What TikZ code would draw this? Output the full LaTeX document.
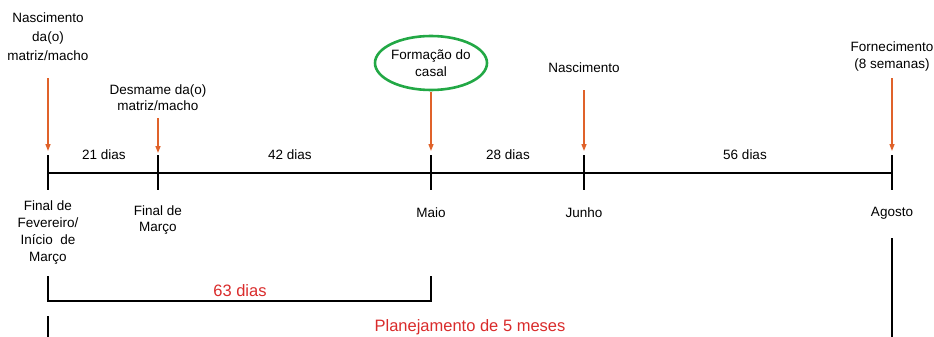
\documentclass[tikz,border=0pt]{standalone}
\usepackage{fontspec}
\setmainfont{Liberation Sans}
\usetikzlibrary{arrows.meta,shapes.geometric}
\definecolor{setacor}{HTML}{E0622A}
\definecolor{vermelho}{HTML}{D92B2B}
\definecolor{verde}{HTML}{22A845}
\begin{document}
\begin{tikzpicture}[x=1pt,y=-1pt,
    rotulo/.style={align=center,inner sep=0pt,font=\fontsize{13.5}{17}\selectfont},
    destaque/.style={inner sep=0pt,text=vermelho,font=\fontsize{16.5}{19}\selectfont},
    seta/.style={draw=setacor,line width=1.3pt,-{Triangle[length=7pt,width=5pt]}},
    eixo/.style={line width=2.8pt},
    chave/.style={line width=1.4pt}
  ]
  \useasboundingbox (0,0) rectangle (934,337);
  % marcos da linha do tempo
  \draw
    (48,173) coordinate (t0)
    (158,173) coordinate (t1)
    (431,173) coordinate (t2)
    (584,173) coordinate (t3)
    (892,173) coordinate (t4);
  % eventos (acima)
  \draw
    (48,37) node[rotulo,font=\fontsize{13.5}{19}\selectfont] (nasc0){Nascimento\\da(o)\\matriz/macho}
    (158,97.5) node[rotulo,font=\fontsize{13.5}{15.5}\selectfont] (desm){Desmame da(o)\\matriz/macho}
    (431,63) node[rotulo,font=\fontsize{13.5}{17}\selectfont] (form){Formação do\\casal}
    (584,68) node[rotulo] (nasc1){Nascimento}
    (892,56.5) node[rotulo] (forn){Fornecimento\\(8 semanas)};
  \node[ellipse,draw=verde,line width=2.6pt,minimum width=112pt,minimum height=54pt] (oval) at (form) {};
  % intervalos
  \draw
    (104,155) node[rotulo] (d21){21 dias}
    (290,155) node[rotulo] (d42){42 dias}
    (508,155) node[rotulo] (d28){28 dias}
    (745,155) node[rotulo] (d56){56 dias};
  % datas (abaixo)
  \draw
    (48,232.5) node[rotulo] (fev){Final de\\Fevereiro/\\Início~ de\\Março}
    (158,220) node[rotulo,font=\fontsize{13.5}{16}\selectfont] (mar){Final de\\Março}
    (431,213) node[rotulo] (mai){Maio}
    (584,213) node[rotulo] (jun){Junho}
    (892,213) node[rotulo] (ago){Agosto};
  % pontas das setas
  \draw
    (48,78) coordinate (s0a) (48,151) coordinate (s0b)
    (158,118) coordinate (s1a) (158,153) coordinate (s1b)
    (431,92) coordinate (s2a) (431,151) coordinate (s2b)
    (584,90) coordinate (s3a) (584,151) coordinate (s3b)
    (892,78) coordinate (s4a) (892,151) coordinate (s4b);
  \begin{scope}[seta]
    \draw (s0a) to (s0b);
    \draw (s1a) to (s1b);
    \draw (s2a) to (s2b);
    \draw (s3a) to (s3b);
    \draw (s4a) to (s4b);
  \end{scope}
  % linha do tempo
  \begin{scope}[eixo]
    \draw (t0) to (t4);
    \foreach \t in {t0,t1,t2,t3,t4}
      \draw (\t) ++(0,-18) -- ++(0,35);
  \end{scope}
  % 63 dias
  \draw[chave] (48,276) -- (48,301) -- (431,301) -- (431,276);
  \node[destaque] (d63) at (240,291) {63 dias};
  % planejamento
  \draw[chave] (48,316) -- (48,337);
  \draw[chave] (892,238) -- (892,337);
  \node[destaque] (plan) at (470,327) {Planejamento de 5 meses};
\end{tikzpicture}
\end{document}
